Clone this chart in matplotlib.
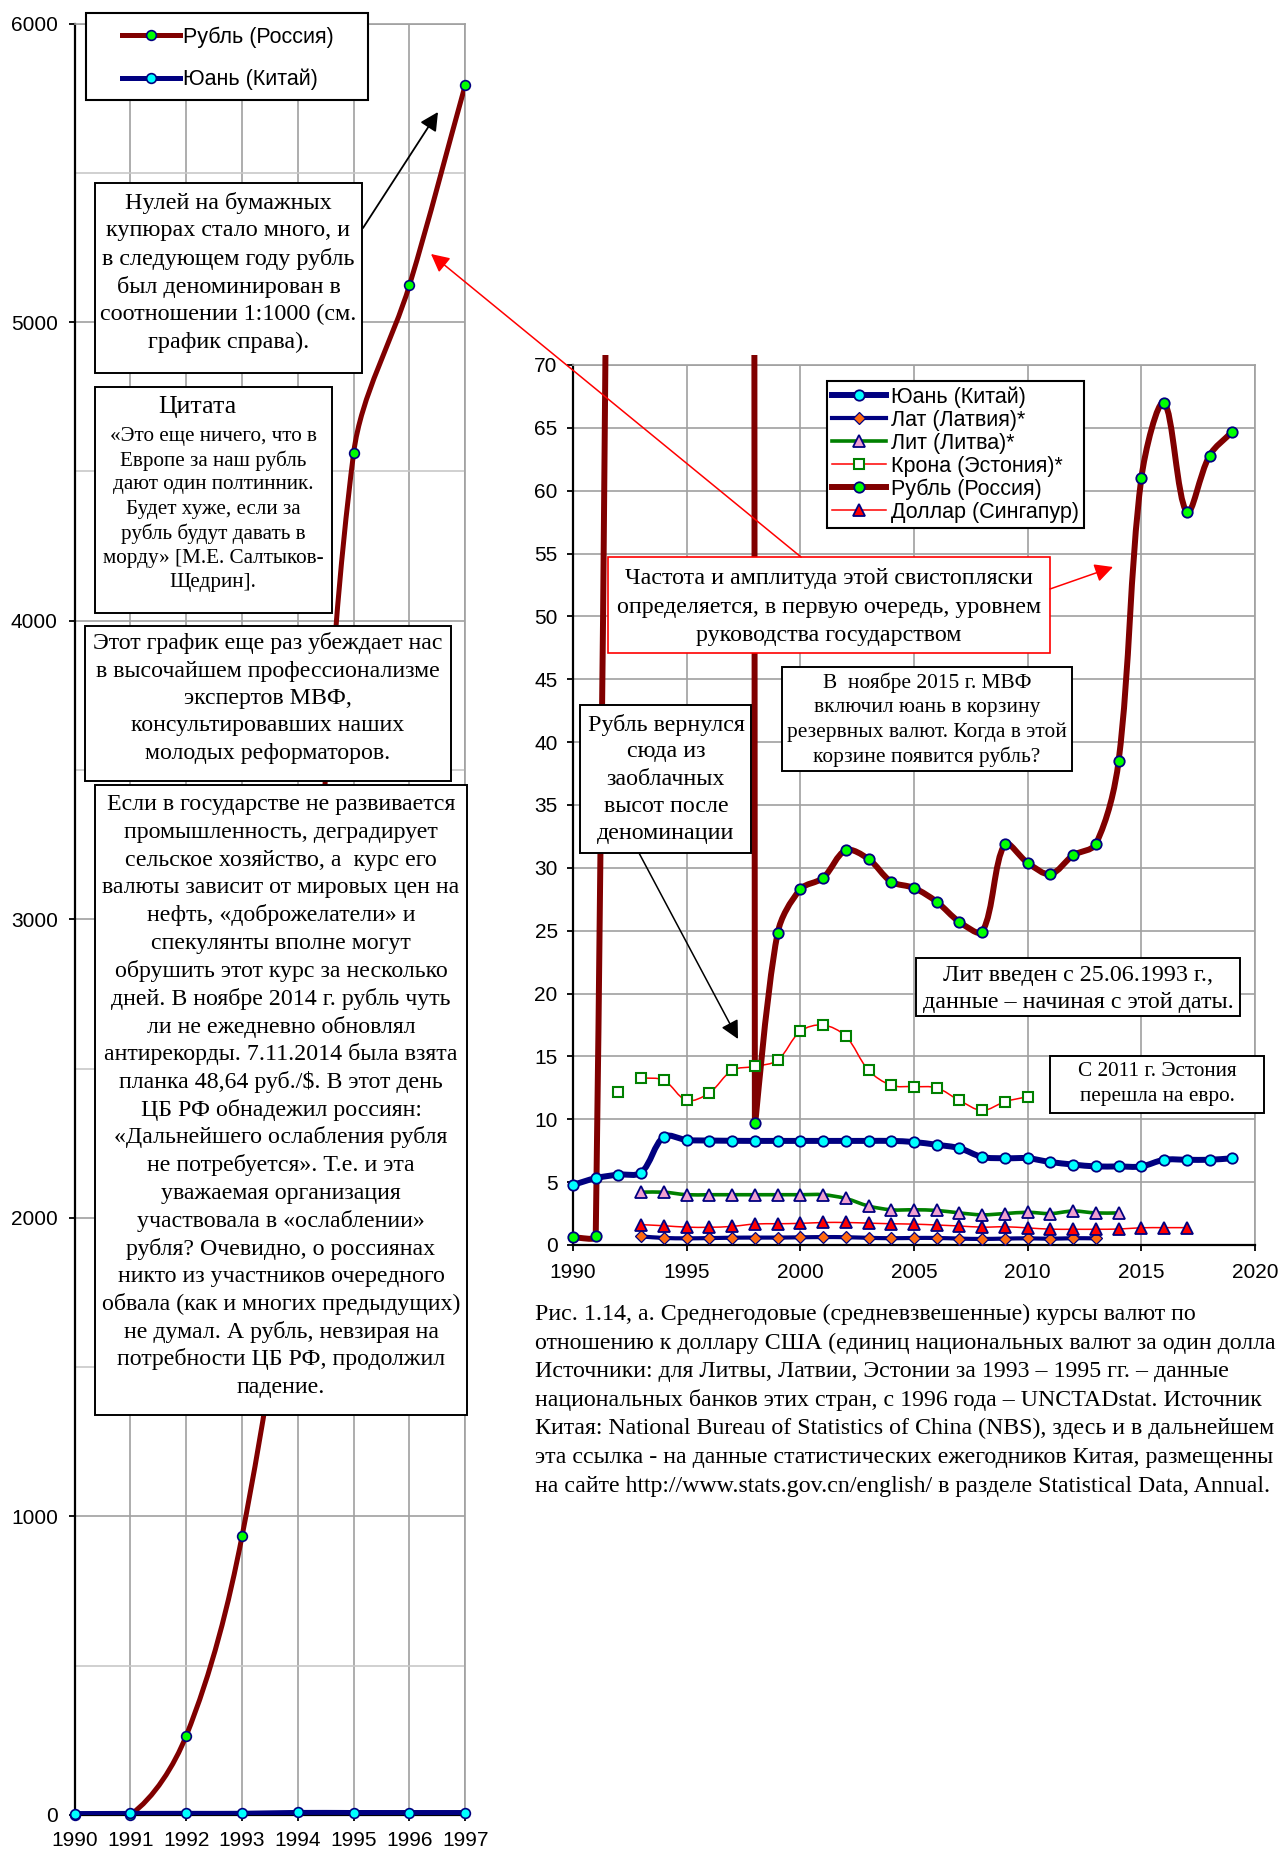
import numpy as np
import matplotlib
matplotlib.use("Agg")
import matplotlib.pyplot as plt
from matplotlib.path import Path
from matplotlib.patches import PathPatch, Rectangle, FancyArrowPatch, ArrowStyle
from matplotlib.lines import Line2D

# ---------------- data: average annual exchange rates, units per 1 USD ----------------
years = list(range(1990, 2020))
ruble = [0.6, 0.7, 265, 933, 2191, 4562, 5124, 5795, 9.7, 24.8,
         28.3, 29.2, 31.4, 30.7, 28.9, 28.4, 27.3, 25.7, 24.9, 31.9,
         30.4, 29.5, 31.0, 31.9, 38.5, 61.0, 67.0, 58.3, 62.8, 64.7]
yuan = [4.78, 5.32, 5.6, 5.76, 8.62, 8.35, 8.31, 8.29, 8.28, 8.28,
        8.28, 8.28, 8.28, 8.28, 8.28, 8.19, 7.97, 7.7, 7.0, 6.9,
        6.9, 6.6, 6.4, 6.25, 6.25, 6.25, 6.78, 6.78, 6.78, 6.9]
lat_years = list(range(1993, 2014))
lat = [0.68, 0.56, 0.53, 0.55, 0.58, 0.59, 0.59, 0.61, 0.63, 0.62, 0.57,
       0.54, 0.56, 0.56, 0.51, 0.48, 0.51, 0.53, 0.50, 0.54, 0.53]
lit_years = list(range(1993, 2015))
lit = [4.2, 4.2, 4.0, 4.0, 4.0, 4.0, 4.0, 4.0, 4.0, 3.7, 3.1,
       2.8, 2.8, 2.75, 2.55, 2.4, 2.5, 2.6, 2.5, 2.7, 2.55, 2.55]
kroon_years = list(range(1992, 2011))
kroon = [12.2, 13.3, 13.1, 11.5, 12.1, 13.9, 14.2, 14.7, 17.0, 17.5,
         16.6, 13.9, 12.7, 12.6, 12.5, 11.5, 10.7, 11.4, 11.8]
sgd_years = list(range(1993, 2018))
sgd = [1.62, 1.53, 1.42, 1.41, 1.48, 1.67, 1.69, 1.72, 1.79, 1.79, 1.74,
       1.69, 1.66, 1.59, 1.51, 1.42, 1.45, 1.36, 1.26, 1.25, 1.25, 1.27,
       1.37, 1.38, 1.38]

left_years = years[:8]            # 1990-1997, before the redenomination
left_yticks = list(range(0, 6001, 1000))
right_xticks = list(range(1990, 2021, 5))
right_yticks = list(range(0, 71, 5))

left_labels = ["Рубль (Россия)", "Юань (Китай)"]
right_labels = ["Юань (Китай)", "Лат (Латвия)*", "Лит (Литва)*",
                "Крона (Эстония)*", "Рубль (Россия)", "Доллар (Сингапур)"]

# ---------------- styling ----------------
W, H = 1279, 1852
SANS = ["Liberation Sans", "DejaVu Sans"]
SERIF = ["Liberation Serif", "DejaVu Serif"]
plt.rcParams["font.family"] = SANS

RUB = "#800000"
NAVY = "#000080"
GREEN = "#008000"
RED = "#ff0000"
GRID = "#a0a0a0"
PINK = "#f0a0d0"
ORANGE = "#ff6a10"

fig = plt.figure(figsize=(W / 100, H / 100), dpi=100)


def fx(x):
    return x / W


def fy(y):
    return 1 - y / H


axL = fig.add_axes([fx(74.5), fy(1815), (465.3 - 74.5) / W, (1815 - 23.6) / H])
axR = fig.add_axes([fx(573), fy(1245), (1255 - 573) / W, (1245 - 365) / H])


def style_axes(ax, xlim, ylim, xticks, yticks, xpad, ypad):
    ax.set_xlim(*xlim)
    ax.set_ylim(*ylim)
    ax.set_autoscale_on(False)
    ax.set_xticks(xticks)
    ax.set_yticks(yticks)
    ax.set_xticklabels([str(t) for t in xticks])
    ax.set_yticklabels([str(t) for t in yticks])
    for s in ("top", "right"):
        ax.spines[s].set_color(GRID)
        ax.spines[s].set_linewidth(1.2)
    for s in ("left", "bottom"):
        ax.spines[s].set_color("black")
        ax.spines[s].set_linewidth(1.6)
    ax.tick_params(axis="both", which="major", direction="out", length=4,
                   width=1.3, labelsize=15, color="black")
    ax.tick_params(axis="x", pad=xpad)
    ax.tick_params(axis="y", pad=ypad)
    ax.grid(True, which="major", color=GRID, lw=1.2)
    ax.set_axisbelow(True)


def smooth_path(ax, xs, ys):
    """Bezier path through the points, with tangents in screen space."""
    P = ax.transData.transform(np.column_stack([xs, ys]).astype(float))
    n = len(P)
    verts = [P[0]]
    codes = [Path.MOVETO]
    for i in range(n - 1):
        p0 = P[max(i - 1, 0)]
        p1 = P[i]
        p2 = P[i + 1]
        p3 = P[min(i + 2, n - 1)]
        d01 = np.hypot(*(p1 - p0))
        d12 = np.hypot(*(p2 - p1))
        d23 = np.hypot(*(p3 - p2))
        c1 = p1 + (p2 - p0) * (d12 / (d01 + d12)) / 3.0
        c2 = p2 - (p3 - p1) * (d12 / (d12 + d23)) / 3.0
        lo, hi = min(p1[1], p2[1]), max(p1[1], p2[1])
        m = 0.05 * (hi - lo) + 4.0
        c1[1] = np.clip(c1[1], lo - m, hi + m)
        c2[1] = np.clip(c2[1], lo - m, hi + m)
        c1[0] = np.clip(c1[0], p1[0], p2[0])
        c2[0] = np.clip(c2[0], p1[0], p2[0])
        verts += [c1, c2, p2]
        codes += [Path.CURVE4] * 3
    verts = ax.transData.inverted().transform(np.array(verts))
    return Path(verts, codes)


def smooth_line(ax, xs, ys, color, lw, z=3, top_extra=0.0):
    patch = PathPatch(smooth_path(ax, xs, ys), facecolor="none", edgecolor=color,
                      lw=lw, joinstyle="round", capstyle="round", zorder=z)
    ax.add_patch(patch)
    if top_extra:
        patch.set_clip_path(Rectangle((0, 0), 1, 1 + top_extra, transform=ax.transAxes))
    return patch


def markers(ax, xs, ys, **kw):
    ax.plot(xs, ys, ls="none", zorder=6, clip_on=False, **kw)


# ---------------- left chart: 1990-1997 in old rubles ----------------
style_axes(axL, (1990, 1997), (0, 6000), left_years, left_yticks, xpad=7.8, ypad=8)
axL.set_yticks(list(range(500, 6000, 1000)), minor=True)
axL.tick_params(axis="y", which="minor", length=0)
axL.grid(True, which="minor", axis="y", color="#c8c8c8", lw=1.2)

smooth_line(axL, left_years, ruble[:8], RUB, 3.6)
smooth_line(axL, left_years, yuan[:8], NAVY, 3.6)
markers(axL, left_years, ruble[:8], marker="o", ms=7, mfc="#00ff00", mec=NAVY, mew=1.2)
markers(axL, left_years, yuan[:8], marker="o", ms=7, mfc="#00ffff", mec=NAVY, mew=1.2)

# ---------------- right chart: 1990-2019 ----------------
style_axes(axR, (1990, 2020), (0, 70), right_xticks, right_yticks, xpad=9, ypad=7)

smooth_line(axR, years, yuan, NAVY, 4.3)
smooth_line(axR, lat_years, lat, NAVY, 3.0)
smooth_line(axR, lit_years, lit, GREEN, 2.6)
smooth_line(axR, kroon_years[1:], kroon[1:], RED, 1.1)
smooth_line(axR, years, ruble, RUB, 4.3, top_extra=0.011)
smooth_line(axR, sgd_years, sgd, RED, 1.1)

ruble_vis = np.where(np.array(ruble) <= 70, ruble, np.nan)
markers(axR, years, yuan, marker="o", ms=7.5, mfc="#00ffff", mec=NAVY, mew=1.3)
markers(axR, lat_years, lat, marker="D", ms=6.5, mfc=ORANGE, mec=NAVY, mew=0.9)
markers(axR, lit_years, lit, marker="^", ms=9, mfc=PINK, mec=NAVY, mew=1.3)
markers(axR, kroon_years, kroon, marker="s", ms=7.5, mfc="white", mec=GREEN, mew=1.5)
markers(axR, years, ruble_vis, marker="o", ms=7.5, mfc="#00ff00", mec=NAVY, mew=1.3)
markers(axR, sgd_years, sgd, marker="^", ms=9, mfc="#ff0000", mec=NAVY, mew=1.3)

# ---------------- legends ----------------
fig.add_artist(Rectangle((fx(86), fy(100)), (368 - 86) / W, 87 / H, transform=fig.transFigure,
                         facecolor="white", edgecolor="black", lw=1.5, zorder=10))
left_handles = [
    Line2D([], [], color=RUB, lw=3.6, marker="o", ms=7, mfc="#00ff00", mec=NAVY, mew=1.2),
    Line2D([], [], color=NAVY, lw=3.6, marker="o", ms=7, mfc="#00ffff", mec=NAVY, mew=1.2),
]
legL = fig.legend(left_handles, left_labels, loc="upper left", bbox_to_anchor=(fx(122), fy(26.5)),
                  bbox_transform=fig.transFigure, frameon=False, fontsize=15.5, borderpad=0,
                  borderaxespad=0, handlelength=2.7, handletextpad=0.15, labelspacing=0.98)
legL.set_zorder(12)

right_handles = [
    Line2D([], [], color=NAVY, lw=4.3, marker="o", ms=7.5, mfc="#00ffff", mec=NAVY, mew=1.3),
    Line2D([], [], color=NAVY, lw=3.0, marker="D", ms=6.5, mfc=ORANGE, mec=NAVY, mew=0.9),
    Line2D([], [], color=GREEN, lw=2.6, marker="^", ms=9, mfc=PINK, mec=NAVY, mew=1.3),
    Line2D([], [], color=RED, lw=1.1, marker="s", ms=7.5, mfc="white", mec=GREEN, mew=1.5),
    Line2D([], [], color=RUB, lw=4.3, marker="o", ms=7.5, mfc="#00ff00", mec=NAVY, mew=1.3),
    Line2D([], [], color=RED, lw=1.1, marker="^", ms=9, mfc="#ff0000", mec=NAVY, mew=1.3),
]
legR = fig.legend(right_handles, right_labels, loc="upper left", bbox_to_anchor=(fx(827), fy(381)),
                  bbox_transform=fig.transFigure, fontsize=15.5, borderpad=0.25, borderaxespad=0,
                  handlelength=2.5, handletextpad=0.2, labelspacing=0.09, fancybox=False,
                  framealpha=1, edgecolor="black")
legR.get_frame().set_linewidth(1.5)
legR.set_zorder(12)

# ---------------- text boxes ----------------


def box(x0, y0, x1, y1, edge="black", lw=1.4):
    fig.add_artist(Rectangle((fx(x0), fy(y1)), (x1 - x0) / W, (y1 - y0) / H,
                             transform=fig.transFigure, facecolor="white",
                             edgecolor=edge, lw=lw, zorder=10))


def lines_at(cx, y_first, step, lines, size, ha="center"):
    for k, s in enumerate(lines):
        fig.text(fx(cx), fy(y_first + k * step), s, ha=ha, va="center_baseline",
                 fontsize=size, family=SERIF, zorder=11)


box(95, 183, 362, 373)
lines_at(228.5, 200, 28, ["Нулей на бумажных", "купюрах стало много, и",
                          "в следующем году рубль", "был деноминирован в",
                          "соотношении 1:1000 (см.", "график справа)."], 17.4)

box(95, 387, 332, 613)
lines_at(197, 404, 0, ["Цитата"], 18.5)
lines_at(213, 433.5, 24.4, ["«Это еще ничего, что в", "Европе за наш рубль",
                            "дают один полтинник.", "Будет хуже, если за",
                            "рубль будут давать в", "морду» [М.Е. Салтыков-",
                            "Щедрин]."], 15.2)

box(85, 626, 451, 781)
lines_at(268, 641, 27.5, ["Этот график еще раз убеждает нас",
                          "в высочайшем профессионализме", "экспертов МВФ,",
                          "консультировавших наших", "молодых реформаторов."], 17.2)

box(95, 785, 467, 1415)
lines_at(281, 802, 27.75, [
    "Если в государстве не развивается", "промышленность, деградирует",
    "сельское хозяйство, а  курс его", "валюты зависит от мировых цен на",
    "нефть, «доброжелатели» и", "спекулянты вполне могут",
    "обрушить этот курс за несколько", "дней. В ноябре 2014 г. рубль чуть",
    "ли не ежедневно обновлял", "антирекорды. 7.11.2014 была взята",
    "планка 48,64 руб./$. В этот день", "ЦБ РФ обнадежил россиян:",
    "«Дальнейшего ослабления рубля", "не потребуется». Т.е. и эта",
    "уважаемая организация", "участвовала в «ослаблении»",
    "рубля? Очевидно, о россиянах", "никто из участников очередного",
    "обвала (как и многих предыдущих)", "не думал. А рубль, невзирая на",
    "потребности ЦБ РФ, продолжил", "падение."], 17.2)

box(608, 557, 1050, 653, edge=RED, lw=1.2)
lines_at(829, 576, 28.5, ["Частота и амплитуда этой свистопляски",
                          "определяется, в первую очередь, уровнем",
                          "руководства государством"], 17.3)

box(782, 667, 1072, 771)
lines_at(927, 680, 24.7, ["В  ноябре 2015 г. МВФ", "включил юань в корзину",
                          "резервных валют. Когда в этой", "корзине появится рубль?"], 15.4)

box(580, 705, 751, 853)
lines_at(666, 722, 27.3, ["Рубль вернулся", "сюда из", "заоблачных",
                          "высот после", "деноминации"], 17.3)

box(916, 958, 1240, 1016)
lines_at(1078, 973, 27, ["Лит введен с 25.06.1993 г.,", "данные – начиная с этой даты."], 17.3)

box(1050, 1056, 1264, 1113)
lines_at(1157, 1069, 25, ["С 2011 г. Эстония", "перешла на евро."], 15.3)

# ---------------- arrows ----------------


def arrow(x0, y0, x1, y1, color, lw):
    fig.add_artist(FancyArrowPatch((fx(x0), fy(y0)), (fx(x1), fy(y1)),
                                   transform=fig.transFigure, color=color, lw=lw,
                                   arrowstyle=ArrowStyle("-|>", head_length=0.55, head_width=0.28),
                                   mutation_scale=20, shrinkA=0, shrinkB=0, zorder=13))


arrow(363, 228, 438, 112, "black", 1.3)
arrow(801, 557, 431, 254, RED, 1.1)
arrow(1050, 589, 1113, 567, RED, 1.1)
arrow(639, 853, 738, 1039, "black", 1.1)

# ---------------- caption (runs to the right edge of the page) ----------------
caption = [
    "Рис. 1.14, а. Среднегодовые (средневзвешенные) курсы валют по",
    "отношению к доллару США (единиц национальных валют за один долла",
    "Источники: для Литвы, Латвии, Эстонии за 1993 – 1995 гг. – данные",
    "национальных банков этих стран, с 1996 года – UNCTADstat. Источник",
    "Китая: National Bureau of Statistics of China (NBS), здесь и в дальнейшем",
    "эта ссылка - на данные статистических ежегодников Китая, размещенны",
    "на сайте http://www.stats.gov.cn/english/ в разделе Statistical Data, Annual.",
]
lines_at(535, 1312, 28.6, caption, 17.2, ha="left")

fig.savefig("out.png", dpi=100, facecolor="white")
